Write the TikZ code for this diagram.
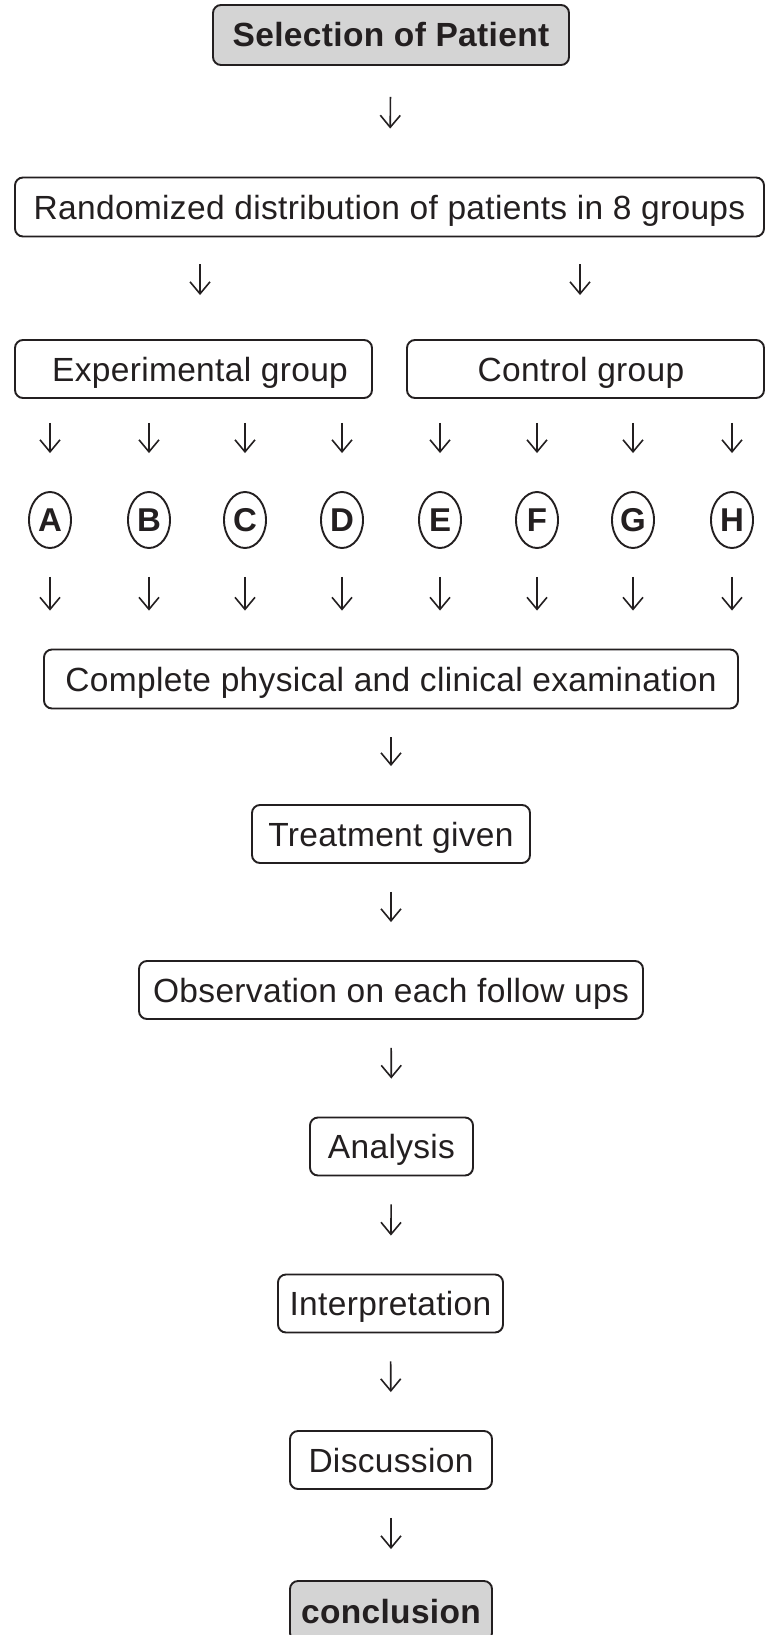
\documentclass[tikz,border=0pt]{standalone}
\usepackage{fontspec}
\setmainfont[LetterSpace=1]{Liberation Sans}
\usetikzlibrary{arrows.meta,shapes.geometric}
\definecolor{ink}{RGB}{35,31,32}
\definecolor{gfill}{RGB}{212,212,212}
\tikzset{
  box/.style={draw=ink, line width=1.9pt, rounded corners=8pt, minimum height=58pt, inner sep=0pt, text=ink, text height=24pt, text depth=0pt, font=\fontsize{33.5pt}{40pt}\selectfont},
  gbox/.style={box, fill=gfill, font=\fontsize{33.5pt}{40pt}\selectfont\bfseries},
  oval/.style={draw=ink, ellipse, line width=1.9pt, minimum width=42pt, minimum height=56pt, inner sep=0pt, text=ink, text height=23.6pt, text depth=0pt, font=\fontsize{33pt}{38pt}\selectfont\bfseries},
  arr/.style={draw=ink, -{Straight Barb[length=12pt,width=20pt]}, line width=1.6pt, shorten <=28pt, shorten >=38pt}
}
\begin{document}
\begin{tikzpicture}[x=1pt,y=-1pt]
\useasboundingbox[fill=white] (0,0) rectangle (765,1635);
\node[gbox, minimum width=356pt, minimum height=60pt] (sel) at (391,35) {Selection of Patient};
\node[box, minimum width=749pt, minimum height=59pt] (rand) at (389.5,207) {Randomized distribution of patients in 8 groups};
\node[box, minimum width=357pt] (exp) at (193.5,369) {\hspace*{13pt}Experimental group};
\node[box, minimum width=357pt] (ctrl) at (585.5,369) {Control group\hspace*{9pt}};
\coordinate (xe) at (200,0);
\coordinate (xc) at (580,0);
\foreach \n/\x in {A/50,B/149,C/245,D/342,E/440,F/537,G/633,H/732}{
  \node[oval] (\n) at (\x,520) {\n};
}
\node[box, minimum width=694pt, minimum height=59pt] (comp) at (391,679) {Complete physical and clinical examination};
\node[box, minimum width=278pt] (treat) at (391,834) {Treatment given};
\node[box, minimum width=504pt] (obs) at (391,990) {Observation on each follow ups};
\node[box, minimum width=163pt] (anal) at (391.5,1146.5) {Analysis};
\node[box, minimum width=225pt] (interp) at (390.5,1303.5) {Interpretation};
\node[box, minimum width=202pt] (disc) at (391,1460) {Discussion};
\node[gbox, minimum width=202pt, minimum height=60pt] (concl) at (391,1611) {conclusion};

\draw[arr, shorten <=31pt, shorten >=48pt] (sel) -- (rand);
\draw[arr, shorten <=27pt, shorten >=44pt] (rand.south -| xe) -- (exp.north -| xe);
\draw[arr, shorten <=27pt, shorten >=44pt] (rand.south -| xc) -- (ctrl.north -| xc);
\foreach \n in {A,B,C,D}{
  \draw[arr, shorten <=24pt, shorten >=38pt] (exp.south -| \n.north) -- (\n.north);
  \draw[arr, shorten <=28pt, shorten >=38pt] (\n.south) -- (comp.north -| \n.south);
}
\foreach \n in {E,F,G,H}{
  \draw[arr, shorten <=24pt, shorten >=38pt] (ctrl.south -| \n.north) -- (\n.north);
  \draw[arr, shorten <=28pt, shorten >=38pt] (\n.south) -- (comp.north -| \n.south);
}
\draw[arr] (comp) -- (treat);
\draw[arr] (treat) -- (obs);
\draw[arr] (obs) -- (anal);
\draw[arr] (anal) -- (interp);
\draw[arr] (interp) -- (disc);
\draw[arr, shorten >=31pt] (disc) -- (concl);
\end{tikzpicture}
\end{document}
